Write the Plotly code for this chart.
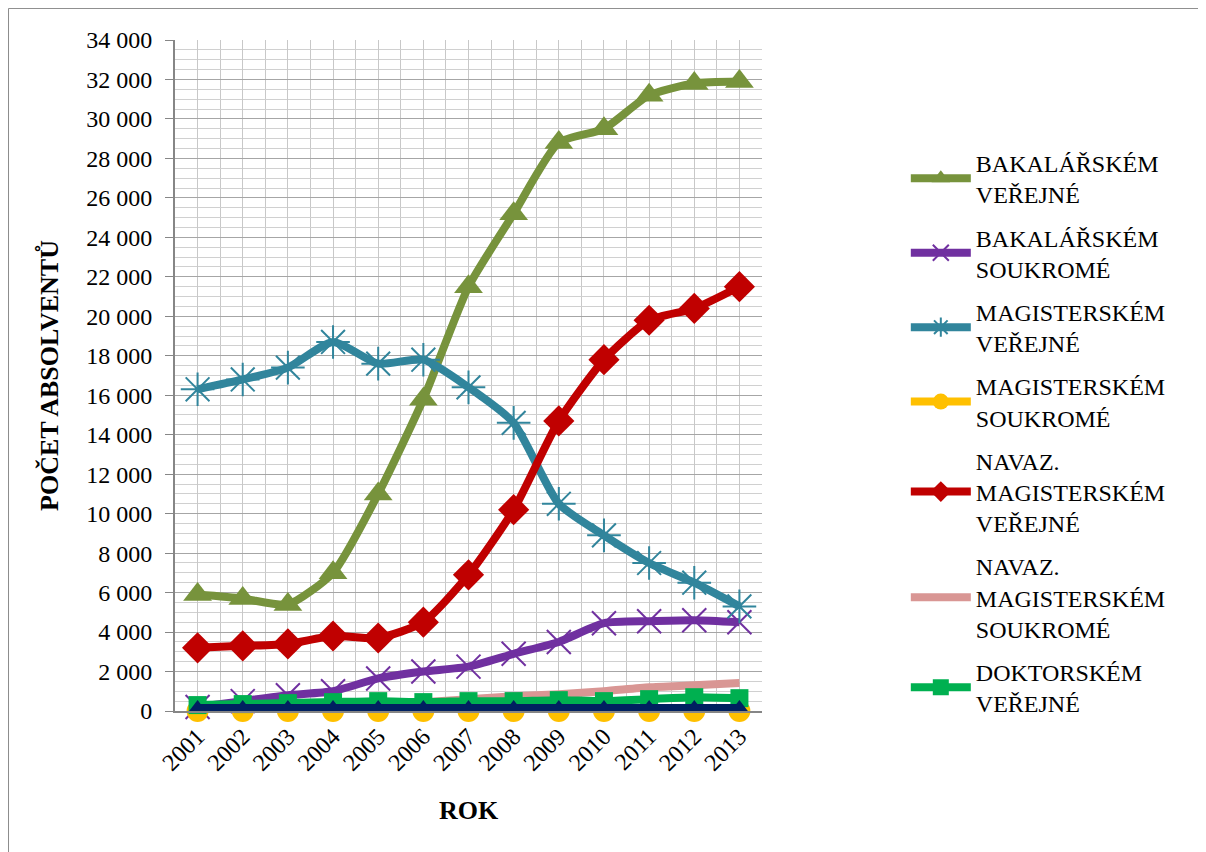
import plotly.graph_objects as go

years = [2001, 2002, 2003, 2004, 2005, 2006, 2007, 2008, 2009, 2010, 2011, 2012, 2013]
year_labels = [str(y) for y in years]

bak_verejne = [5900, 5700, 5400, 7000, 11000, 15800, 21500, 25200, 28800, 29500, 31200, 31800, 31900]
bak_soukrome = [200, 500, 800, 1000, 1650, 2000, 2250, 2900, 3500, 4450, 4550, 4600, 4500]
mag_verejne = [16300, 16800, 17400, 18700, 17600, 17800, 16400, 14600, 10500, 8900, 7500, 6500, 5300]
mag_soukrome = [0, 0, 0, 0, 0, 0, 0, 0, 0, 0, 0, 0, 0]
nav_verejne = [3200, 3300, 3400, 3800, 3700, 4500, 6900, 10200, 14700, 17800, 19800, 20400, 21500]
nav_soukrome = [0, 50, 100, 200, 300, 450, 600, 750, 850, 1000, 1200, 1300, 1420]
dok_verejne = [300, 350, 400, 450, 500, 450, 500, 500, 550, 500, 600, 700, 650]
dok_soukrome = [150, 150, 150, 150, 150, 150, 150, 150, 150, 150, 150, 150, 150]

y_ticks = list(range(0, 34001, 2000))

series = [
    ("BAKALÁŘSKÉM<br>VEŘEJNÉ", bak_verejne, "#77933C", dict(symbol="triangle-up", size=25, color="#77933C"), True),
    ("BAKALÁŘSKÉM<br>SOUKROMÉ", bak_soukrome, "#7030A0", dict(symbol="x-thin-open", size=24, color="#7030A0", line=dict(color="#7030A0", width=2)), True),
    ("MAGISTERSKÉM<br>VEŘEJNÉ", mag_verejne, "#31859C", dict(symbol="asterisk-open", size=28, color="#31859C", line=dict(color="#31859C", width=2)), True),
    ("MAGISTERSKÉM<br>SOUKROMÉ", mag_soukrome, "#FFC000", dict(symbol="circle", size=22, color="#FFC000"), True),
    ("NAVAZ.<br>MAGISTERSKÉM<br>VEŘEJNÉ", nav_verejne, "#C00000", dict(symbol="diamond", size=24, color="#C00000"), True),
    ("NAVAZ.<br>MAGISTERSKÉM<br>SOUKROMÉ", nav_soukrome, "#D99694", dict(symbol="circle", size=1, color="#D99694"), True),
    ("DOKTORSKÉM<br>VEŘEJNÉ", dok_verejne, "#00B050", dict(symbol="square", size=18, color="#00B050"), True),
    ("DOKTORSKÉM<br>SOUKROMÉ", dok_soukrome, "#002060", dict(symbol="triangle-up", size=16, color="#002060"), False),
]

fig = go.Figure()
for i, (name, vals, col, mk, show) in enumerate(series):
    fig.add_trace(go.Scatter(
        x=years, y=vals, name=name, mode="lines+markers",
        line=dict(color=col, width=8, shape="spline", smoothing=0.6),
        marker=mk, showlegend=show, legendgroup=f"g{i}", cliponaxis=False,
    ))

font_family = "Liberation Serif"

fig.update_layout(
    width=1198, height=844,
    paper_bgcolor="white", plot_bgcolor="white",
    margin=dict(l=167, r=444, t=32, b=141),
    separators=", ",
    font=dict(family=font_family, size=22, color="black"),
    legend=dict(
        x=1.245, y=0.85, xanchor="left", yanchor="top",
        font=dict(family=font_family, size=24, color="black"),
        tracegroupgap=9, itemwidth=60, bgcolor="rgba(0,0,0,0)",
    ),
    xaxis=dict(
        range=[2000.5, 2013.5], tickvals=years, ticktext=year_labels,
        tickangle=-45, showgrid=True, gridcolor="#c8c8c8", gridwidth=1,
        minor=dict(dtick=0.5, tick0=2000.5, showgrid=True, gridcolor="#c8c8c8", gridwidth=1),
        showline=True, linecolor="#868686", linewidth=2,
        ticks="", zeroline=False,
        title=dict(text="<b>ROK</b>", font=dict(family=font_family, size=26), standoff=26),
        tickfont=dict(family=font_family, size=24),
    ),
    yaxis=dict(
        range=[0, 34000], tickvals=y_ticks, tickformat=",d",
        showgrid=True, gridcolor="#a6a6a6", gridwidth=1,
        minor=dict(dtick=500, showgrid=True, gridcolor="#d0d0d0", gridwidth=1),
        showline=True, linecolor="#868686", linewidth=2,
        ticks="outside", ticklen=8, tickcolor="#868686", zeroline=False,
        ticklabelstandoff=8,
        title=dict(text="<b>POČET ABSOLVENTŮ</b>", font=dict(family=font_family, size=26), standoff=20),
        tickfont=dict(family=font_family, size=24),
    ),
    shapes=[dict(type="rect", xref="paper", yref="paper",
                 x0=-0.2836, x1=1.7555, y0=-0.25, y1=1.047,
                 line=dict(color="#8c8c8c", width=1), layer="below")],
)

fig.write_html("out.html")
